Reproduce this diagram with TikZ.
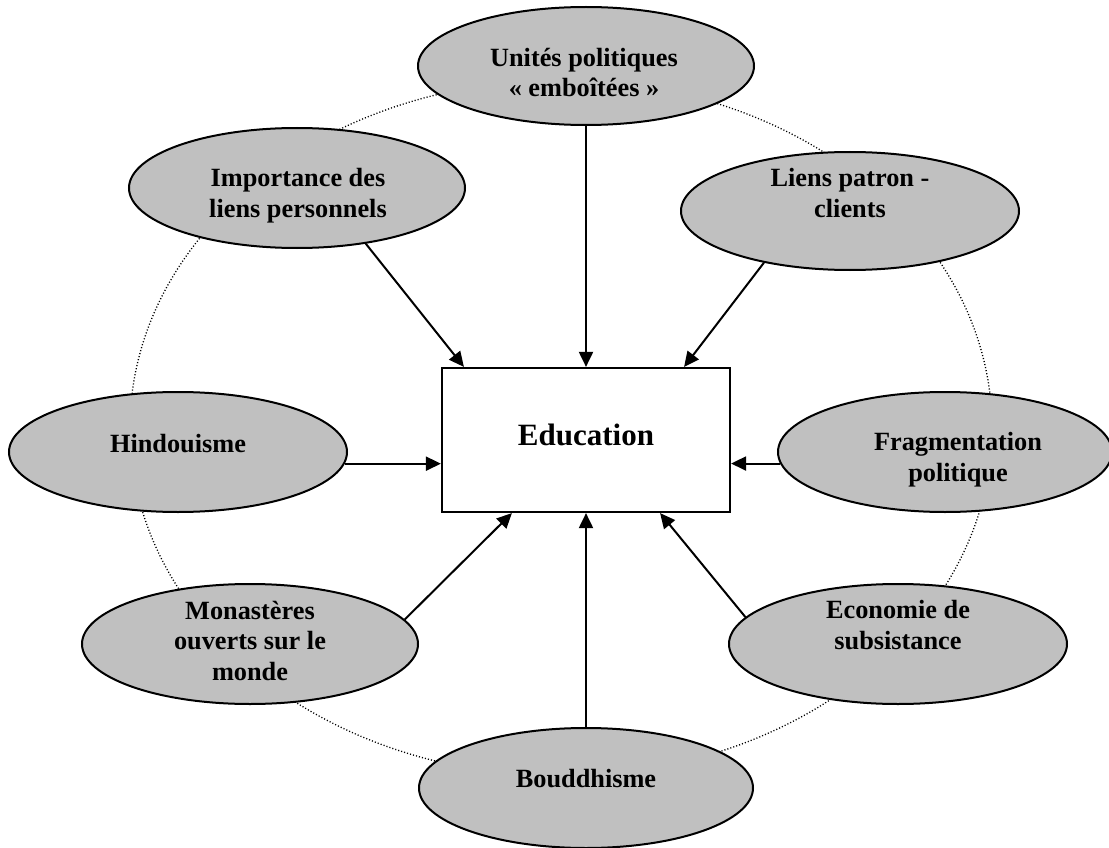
\documentclass[tikz,border=0pt]{standalone}
\usepackage{fontspec}
\setmainfont{Liberation Serif}
\usetikzlibrary{shapes.geometric,arrows.meta,calc}
\definecolor{bubblegray}{RGB}{192,192,192}
\begin{document}
\begin{tikzpicture}[x=1pt,y=-1pt,
  bubble/.style={ellipse, draw=black, line width=2pt, fill=bubblegray, inner sep=0pt},
  arr/.style={-{Triangle[length=15pt,width=14pt]}, line width=2pt},
  lbl/.style={font=\bfseries\fontsize{26.3}{30.5}\selectfont, align=center, inner sep=0pt, anchor=base},
  ring/.style={line width=1.3pt, dash pattern=on 1.1pt off 2pt, black}]
\useasboundingbox (0,0) rectangle (1109,848);
\clip (0,0) rectangle (1109,848);
\draw[ring] (561,428) ellipse [x radius=431, y radius=348];
\node[bubble, minimum width=336pt, minimum height=118pt] (top) at (586,66) {};
\node[bubble, minimum width=336pt, minimum height=120pt] (imp) at (297,188) {};
\node[bubble, minimum width=338pt, minimum height=118pt] (lie) at (850,211) {};
\node[bubble, minimum width=338pt, minimum height=120pt] (hin) at (178,452) {};
\node[bubble, minimum width=334pt, minimum height=120pt] (fra) at (945,452) {};
\node[bubble, minimum width=336pt, minimum height=120pt] (mon) at (250,644) {};
\node[bubble, minimum width=338pt, minimum height=120pt] (eco) at (898,644) {};
\node[bubble, minimum width=334pt, minimum height=120pt] (bou) at (586,788) {};
\node[draw=black, line width=2.2pt, fill=white, minimum width=288pt, minimum height=144pt,
  font=\bfseries\fontsize{31}{36}\selectfont, text height=25pt, text depth=15pt] (edu) at (586,440) {Education};
\node[lbl] (ttop) at (584,97) {Unités politiques\\« emboîtées »};
\node[lbl] (timp) at (298,217) {Importance des\\liens personnels};
\node[lbl] (tlie) at (850,217) {Liens patron -\\clients};
\node[lbl] (thin) at (178,452) {Hindouisme};
\node[lbl] (tfra) at (958,481) {Fragmentation\\politique};
\node[lbl] (tmon) at (250,680) {Monastères\\ouverts sur le\\monde};
\node[lbl] (teco) at (898,649) {Economie de\\subsistance};
\node[lbl] (tbou) at (586,787) {Bouddhisme};
\draw[arr] (top.south) -- (edu.north);
\draw[arr] (imp.-39) -- ($(edu.north west)+(23,0)$);
\draw[arr] (lie.211) -- ($(edu.north east)+(-47,0)$);
\draw[arr] (hin.356) -- (hin.356 -| edu.west);
\draw[arr] (fra.184) -- (fra.184 -| edu.east);
\draw[arr] (mon.9) -- ($(edu.south west)+(71,0)$);
\draw[arr] (eco.170.5) -- ($(edu.south east)+(-71,0)$);
\draw[arr] (bou.north) -- (edu.south);
\end{tikzpicture}
\end{document}
